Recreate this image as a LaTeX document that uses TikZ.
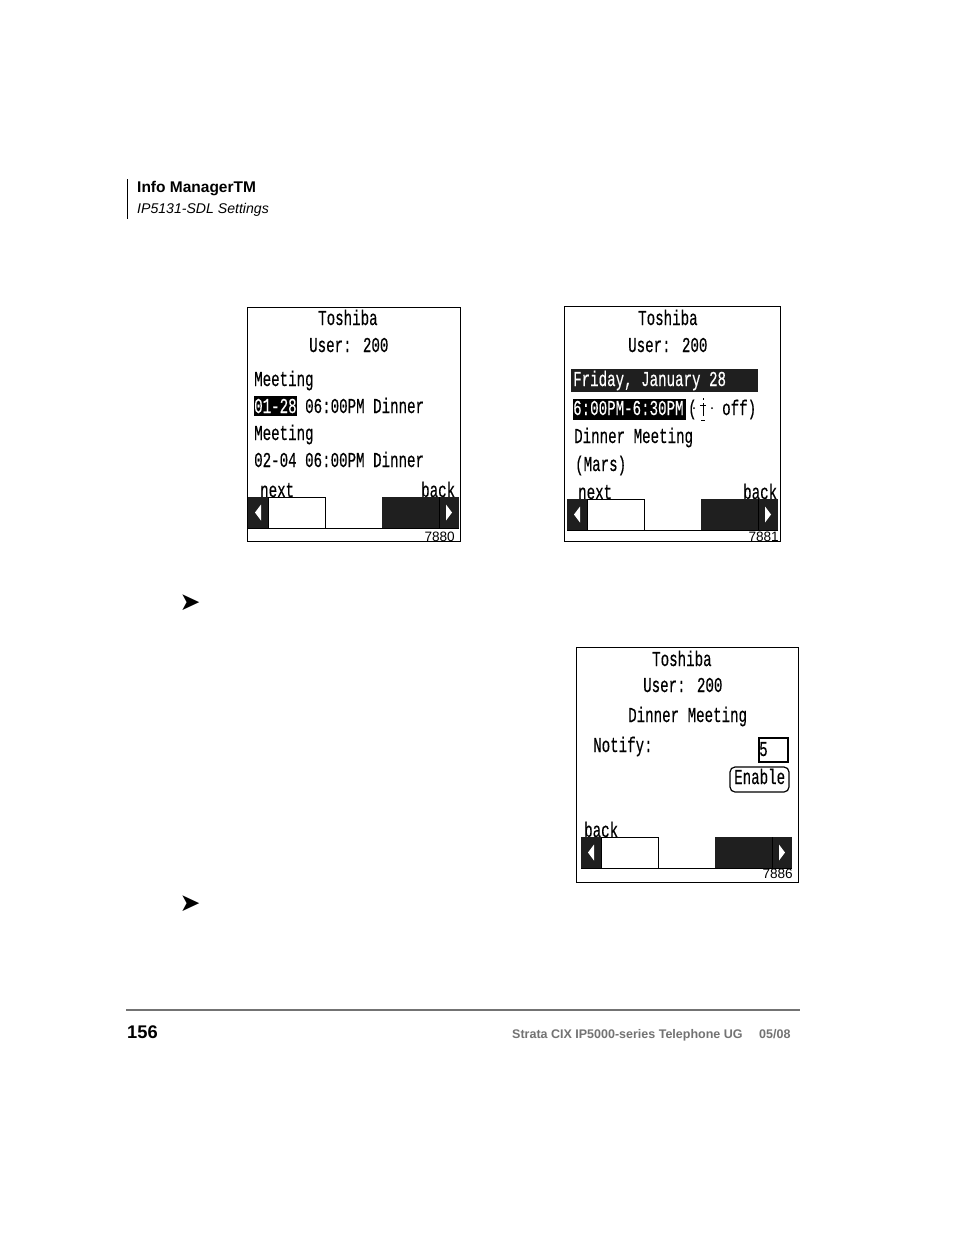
\documentclass[tikz,border=0pt]{standalone}
\usepackage{fontspec}
\setmainfont{Liberation Sans}
\newfontfamily\scrfont[FakeBold=0.4]{Liberation Mono}
\newfontfamily\symfont{DejaVu Sans}
\tikzset{
  scrtext/.style={anchor=base west,inner sep=0pt,font=\scrfont\fontsize{14.15}{14}\selectfont,yscale=1.5},
  scrinv/.style={scrtext,text=white},
  fignum/.style={anchor=base east,inner sep=0pt,font=\fontsize{13.6}{14}\selectfont},
  frame/.style={draw=black,line width=.8pt},
  marker/.style={anchor=center,inner sep=0pt,font=\symfont\fontsize{25}{25}\selectfont},
  foot/.style={anchor=base west,inner sep=0pt,text=black!55,font=\bfseries\fontsize{12.5}{13}\selectfont}
}
\begin{document}
\begin{tikzpicture}[x=1pt,y=-1pt]
  \useasboundingbox[fill=white] (0,0) rectangle (954,1235);
  % header
  \draw[line width=1pt] (127,179) -- (127,219);
  \node[anchor=base west,inner sep=0pt,font=\bfseries\fontsize{15.5}{16}\selectfont] (title) at (137,192) {Info ManagerTM};
  \node[anchor=base west,inner sep=0pt,font=\itshape\fontsize{14.1}{15}\selectfont] (subtitle) at (137,213) {IP5131-SDL Settings};
  % first screen
  \draw[frame] (247,307) rectangle (460,541);
  \node[scrtext] (t1) at (318,325) {Toshiba};
  \node[scrtext] (u1) at (309,352) {User: 200};
  \node[scrtext] (m1) at (254,386) {Meeting};
  \fill (254,396) rectangle (297,416);
  \node[scrinv] (d1) at (254,413) {01-28};
  \node[scrtext] (e1) at (305,413) {06:00PM Dinner};
  \node[scrtext] (m2) at (254,440) {Meeting};
  \node[scrtext] (e2) at (254,467) {02-04 06:00PM Dinner};
  \node[scrtext] (n1) at (260,497) {next};
  \node[scrtext] (b1) at (421,497) {back};
  \node[fignum] (f1) at (455,541) {7880};
  % second screen
  \draw[frame] (564,306) rectangle (780,541);
  \node[scrtext] (t2) at (638,325) {Toshiba};
  \node[scrtext] (u2) at (628,352) {User: 200};
  \fill[black!88] (571,369) rectangle (758,392);
  \node[scrinv] (d2) at (573,386) {Friday, January 28};
  \fill (573,399) rectangle (686,420);
  \node[scrinv] (h2) at (573,415) {6:00PM-6:30PM};
  \node[scrtext] (o2) at (688,415) {(};
  \draw[line width=1pt] (703,398) -- (703,400) (703,403) -- (703,416) (700,405) -- (706,405) (701,420) -- (705,420);
  \fill (694,408) circle (1pt) (712,408) circle (1pt);
  \node[scrtext] (f2) at (722,415) {off)};
  \node[scrtext] (i2) at (574,443) {Dinner Meeting};
  \node[scrtext] (p2) at (575,471) {(Mars)};
  \node[scrtext] (n2) at (578,499) {next};
  \node[scrtext] (b2) at (743,499) {back};
  \node[fignum] (f2n) at (779,541) {7881};
  % third screen
  \draw[frame] (576,647) rectangle (798,882);
  \node[scrtext] (t3) at (652,666) {Toshiba};
  \node[scrtext] (u3) at (643,692) {User: 200};
  \node[scrtext] (i3) at (628,722) {Dinner Meeting};
  \node[scrtext] (y3) at (593,752) {Notify:};
  \draw[line width=2.6pt] (759,738) rectangle (788,762);
  \node[scrtext] (v3) at (759,756) {5};
  \draw[line width=1.2pt,rounded corners=5pt] (730,767) rectangle (789,792);
  \node[scrtext] (en3) at (734,784) {Enable};
  \node[scrtext] (b3) at (584,837) {back};
  \node[fignum] (f3) at (793,878) {7886};
  % softkey bars
  \foreach \sx/\sy in {248/497,567/499,581/837} {
    \begin{scope}[shift={(\sx,\sy)}]
      \fill[white] (20,0) rectangle (77,31);
      \draw[line width=.8pt] (20,0) rectangle (77,31);
      \draw[line width=.8pt] (0,31) -- (211,31);
      \fill[black!88] (0,0) rectangle (20,31);
      \fill[black!88] (134,0) rectangle (211,31);
      \fill[white] (7,15.5) -- (13,7.5) -- (13,23.5) -- cycle;
      \draw[black,line width=1pt] (191,0) -- (191,31);
      \fill[white] (204,15.5) -- (198,7.5) -- (198,23.5) -- cycle;
    \end{scope}
  }
  % step markers
  \node[marker] (s1) at (190,603) {➤};
  \node[marker] (s2) at (190,904) {➤};
  % footer
  \draw[black!55,line width=2pt] (126,1010) -- (800,1010);
  \node[anchor=base west,inner sep=0pt,font=\bfseries\fontsize{18.3}{20}\selectfont] (page) at (127,1038) {156};
  \node[foot] (guide) at (512,1038) {Strata CIX IP5000-series Telephone UG};
  \node[foot] (date) at (759,1038) {05/08};
\end{tikzpicture}
\end{document}
